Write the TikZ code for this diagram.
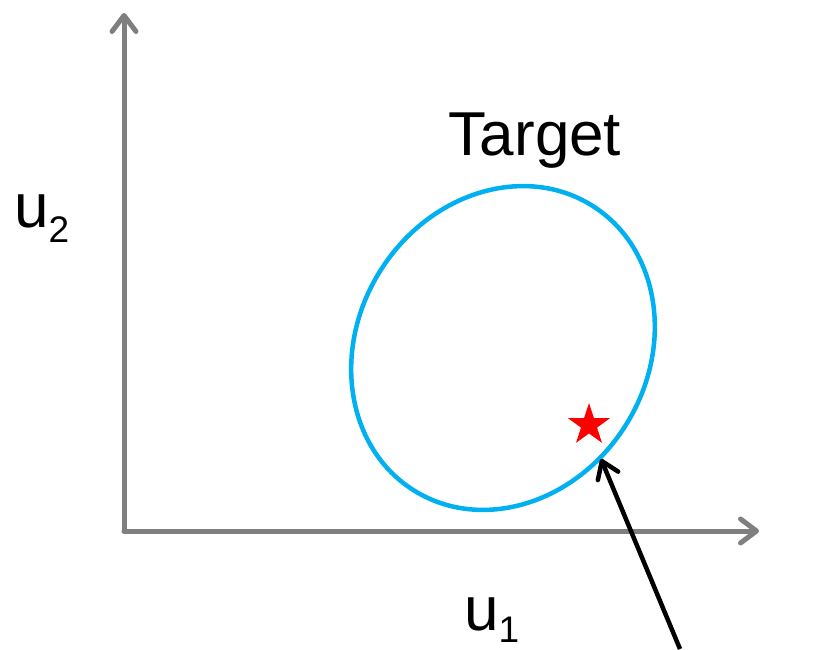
\documentclass[tikz,border=0pt]{standalone}
\usepackage{fontspec}
\setmainfont{Liberation Sans}
\usetikzlibrary{arrows.meta,shapes.geometric}
\definecolor{axisgray}{RGB}{127,127,127}
\definecolor{targetblue}{RGB}{0,176,240}
\definecolor{starred}{RGB}{255,0,0}
\newcommand{\mysub}[2][15pt]{\smash{\raisebox{-#1}{\fontsize{37}{40}\selectfont #2}}}
\tikzset{
  x=1pt,y=1pt,
  axisline/.style={draw=axisgray,line width=5pt,line cap=round,
    -{Straight Barb[length=16pt,width=24pt,line cap=round,line join=round]}},
  pointer/.style={draw=black,line width=4.5pt,
    -{Straight Barb[length=16pt,width=22pt,line cap=round,line join=round]}},
  targetring/.style={ellipse,draw=targetblue,line width=4.5pt,inner sep=0pt,
    minimum width=336pt,minimum height=290pt,rotate=58},
  starmark/.style={star,star points=5,star point ratio=2.6,fill=starred,draw=none,
    inner sep=0pt,minimum size=44pt},
  lbl/.style={font=\fontsize{62}{68}\selectfont,inner sep=0pt}
}
\begin{document}
\begin{tikzpicture}
\useasboundingbox (0,0) rectangle (819,-650);
\coordinate (O) at (124,-531);
\coordinate (ytip) at (124,-13);
\coordinate (xtip) at (759,-531);
\draw[axisline] (O) -- (ytip);
\draw[axisline] (O) -- (xtip);
\node[targetring] (ring) at (503,-348) {};
\node[starmark] (star) at (589,-425) {};
\node[lbl,anchor=base] (target) at (535,-156) {Target};
\node[lbl,anchor=base west] (u2) at (14,-227) {u\mysub{2}};
\node[lbl,anchor=base west] (u1) at (464,-630) {u\mysub[12pt]{1}};
\coordinate (tail) at (680,-649);
\coordinate (tip) at (601,-459);
\draw[pointer] (tail) -- (tip);
\end{tikzpicture}
\end{document}
